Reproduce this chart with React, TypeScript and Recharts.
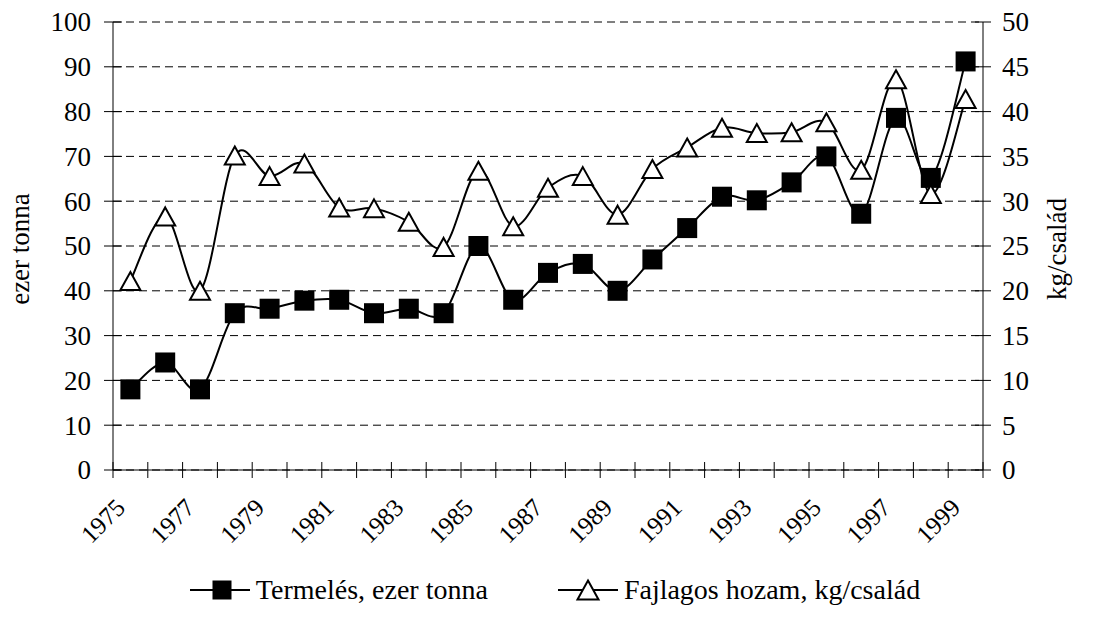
import { LineChart, Line, XAxis, YAxis, CartesianGrid } from "recharts";

const years = [
  "1975", "1976", "1977", "1978", "1979", "1980", "1981", "1982", "1983",
  "1984", "1985", "1986", "1987", "1988", "1989", "1990", "1991", "1992",
  "1993", "1994", "1995", "1996", "1997", "1998", "1999",
];
// Termelés, ezer tonna (left axis)
const production = [
  18, 24, 18, 35, 36, 37.8, 38, 35, 36, 35, 50, 38, 44, 46, 40, 47, 54, 61,
  60.2, 64.2, 70, 57.2, 78.6, 65.2, 91.2,
];
// Fajlagos hozam, kg/család (right axis)
const yieldPerFamily = [
  21.1, 28.3, 20, 35.1, 32.8, 34.2, 29.3, 29.2, 27.7, 24.9, 33.4, 27.2, 31.5,
  32.8, 28.5, 33.6, 36, 38.2, 37.6, 37.7, 38.8, 33.5, 43.6, 30.8, 41.4,
];
const leftTicks = [0, 10, 20, 30, 40, 50, 60, 70, 80, 90, 100];
const rightTicks = [0, 5, 10, 15, 20, 25, 30, 35, 40, 45, 50];
const legendNames = ["Termelés, ezer tonna", "Fajlagos hozam, kg/család"];

const W = 1110;
const H = 620;
const LEFT_W = 113;
const RIGHT_W = 127;
const FONT = '"Liberation Serif", serif';
const FS = 27;
const BAND = (W - LEFT_W - RIGHT_W) / years.length;

const data = years.map((year, i) => ({
  year,
  production: production[i],
  yield: yieldPerFamily[i],
}));

// Excel-like smoothed line (catmull-rom style)
const smoothCurve = (context: any) => {
  let pts: number[][] = [];
  return {
    areaStart() {},
    areaEnd() {},
    lineStart() {
      pts = [];
    },
    lineEnd() {
      if (!pts.length) return;
      context.moveTo(pts[0][0], pts[0][1]);
      const t = 1 / 6;
      for (let i = 0; i < pts.length - 1; i++) {
        const p0 = pts[i - 1] || pts[i];
        const p1 = pts[i];
        const p2 = pts[i + 1];
        const p3 = pts[i + 2] || p2;
        context.bezierCurveTo(
          p1[0] + (p2[0] - p0[0]) * t,
          p1[1] + (p2[1] - p0[1]) * t,
          p2[0] - (p3[0] - p1[0]) * t,
          p2[1] - (p3[1] - p1[1]) * t,
          p2[0],
          p2[1]
        );
      }
    },
    point(x: number, y: number) {
      pts.push([+x, +y]);
    },
  };
};

const SquareDot = ({ cx, cy, size = 20 }: any) => {
  if (cx == null || cy == null) return null;
  return <rect x={cx - size / 2} y={cy - size / 2} width={size} height={size} fill="#000" />;
};

const TriangleDot = ({ cx, cy, size = 20 }: any) => {
  if (cx == null || cy == null) return null;
  const h = size * 0.9;
  const pts = `${cx},${cy - h / 2} ${cx + size / 2},${cy + h / 2} ${cx - size / 2},${cy + h / 2}`;
  return <polygon points={pts} fill="#fff" stroke="#000" strokeWidth={2} strokeLinejoin="miter" />;
};

const LeftTick = ({ x, y, payload }: any) => (
  <g>
    <line x1={x - 9} x2={x + 9} y1={y} y2={y} stroke="#000" />
    <text x={x - 22} y={y} dy="0.35em" textAnchor="end" fontFamily={FONT} fontSize={FS} fill="#000">
      {payload.value}
    </text>
  </g>
);

const RightTick = ({ x, y, payload }: any) => (
  <g>
    <line x1={x - 8} x2={x + 8} y1={y} y2={y} stroke="#000" />
    <text x={x + 19} y={y} dy="0.35em" textAnchor="start" fontFamily={FONT} fontSize={FS} fill="#000">
      {payload.value}
    </text>
  </g>
);

const YearTick = ({ x, y, payload, index }: any) => {
  const last = index === years.length - 1;
  const lx = x - 10;
  const ly = y + 33;
  return (
    <g>
      <line x1={x - BAND / 2} x2={x - BAND / 2} y1={y - 8} y2={y + 8} stroke="#000" />
      {last && <line x1={x + BAND / 2} x2={x + BAND / 2} y1={y - 8} y2={y + 8} stroke="#000" />}
      {index % 2 === 0 && (
        <text
          x={lx}
          y={ly}
          dy="0.35em"
          textAnchor="end"
          transform={`rotate(-45, ${lx}, ${ly})`}
          fontFamily={FONT}
          fontSize={25}
          fill="#000"
        >
          {payload.value}
        </text>
      )}
    </g>
  );
};

const AxisTitle = ({ viewBox, value, dx }: any) => {
  const cx = viewBox.x + dx;
  const cy = viewBox.y + viewBox.height / 2 + 3;
  return (
    <text
      x={cx}
      y={cy}
      dy="0.35em"
      textAnchor="middle"
      transform={`rotate(-90, ${cx}, ${cy})`}
      fontFamily={FONT}
      fontSize={FS}
      fill="#000"
    >
      {value}
    </text>
  );
};

export default function App() {
  return (
    <div style={{ position: "absolute", left: 0, top: 0, width: W, height: H, background: "#fff" }}>
      <LineChart width={W} height={H} data={data} margin={{ top: 22, right: 0, left: 0, bottom: 45 }}>
        <CartesianGrid
          yAxisId="left"
          vertical={false}
          stroke="#000"
          strokeDasharray="8 5"
          horizontalValues={leftTicks}
        />
        <XAxis
          dataKey="year"
          interval={0}
          height={105}
          padding={{ left: BAND / 2, right: BAND / 2 }}
          stroke="#000"
          tickLine={false}
          tickSize={0}
          tickMargin={0}
          tick={<YearTick />}
        />
        <YAxis
          yAxisId="left"
          width={LEFT_W}
          domain={[0, 100]}
          ticks={leftTicks}
          interval={0}
          stroke="#000"
          tickLine={false}
          tickSize={0}
          tickMargin={0}
          tick={<LeftTick />}
          label={{ content: (p: any) => <AxisTitle {...p} value="ezer tonna" dx={20} /> }}
        />
        <YAxis
          yAxisId="right"
          orientation="right"
          width={RIGHT_W}
          domain={[0, 50]}
          ticks={rightTicks}
          interval={0}
          stroke="#000"
          tickLine={false}
          tickSize={0}
          tickMargin={0}
          tick={<RightTick />}
          label={{ content: (p: any) => <AxisTitle {...p} value="kg/család" dx={74} /> }}
        />
        <Line
          yAxisId="left"
          dataKey="production"
          name={legendNames[0]}
          type={smoothCurve as any}
          stroke="#000"
          strokeWidth={2}
          dot={<SquareDot />}
          activeDot={false}
          isAnimationActive={false}
        />
        <Line
          yAxisId="right"
          dataKey="yield"
          name={legendNames[1]}
          type={smoothCurve as any}
          stroke="#000"
          strokeWidth={2}
          dot={<TriangleDot />}
          activeDot={false}
          isAnimationActive={false}
        />
      </LineChart>
      <div
        style={{
          position: "absolute",
          left: 0,
          top: 575,
          width: W,
          height: 30,
          display: "flex",
          justifyContent: "center",
          alignItems: "center",
          gap: 70,
          fontFamily: FONT,
          fontSize: 28,
          color: "#000",
        }}
      >
        {legendNames.map((name, i) => (
          <div key={name} style={{ display: "flex", alignItems: "center" }}>
            <svg width={60} height={30}>
              <line x1={0} x2={60} y1={15} y2={15} stroke="#000" strokeWidth={2} />
              {i === 0 ? <SquareDot cx={32} cy={15} size={19} /> : <TriangleDot cx={30} cy={15} size={21} />}
            </svg>
            <span style={{ marginLeft: 6, lineHeight: "30px" }}>{name}</span>
          </div>
        ))}
      </div>
    </div>
  );
}
